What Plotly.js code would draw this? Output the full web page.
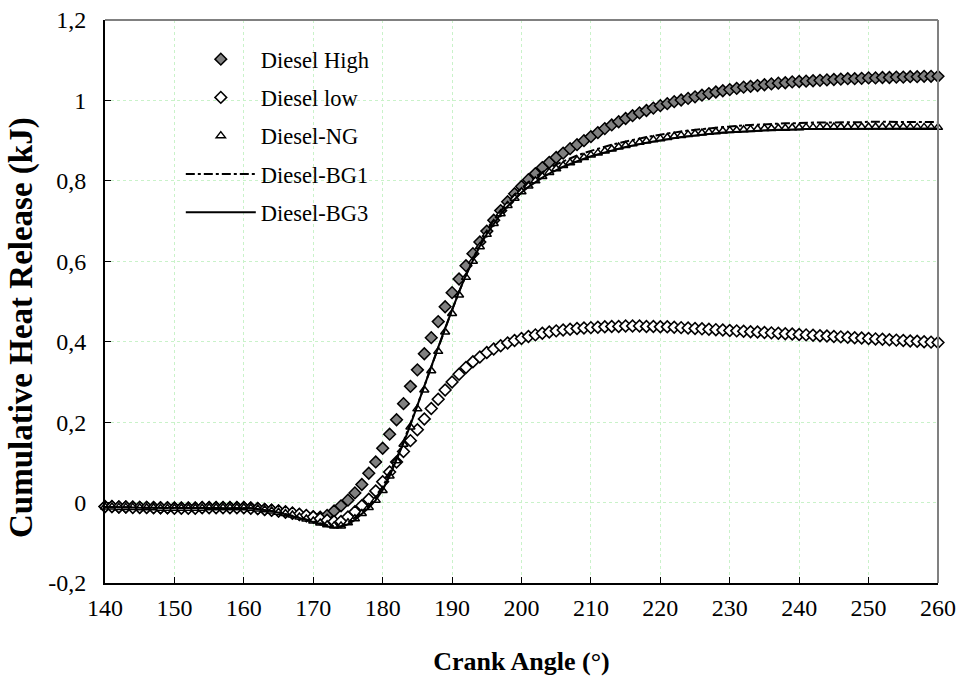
<!DOCTYPE html>
<html><head><meta charset="utf-8">
<script src="https://cdn.plot.ly/plotly-3.0.1.min.js"></script>
<style>html,body{margin:0;padding:0;background:#fff}#chart{width:960px;height:678px}</style>
</head><body><div id="chart"></div>
<script>
const crankAngle = [140,141,142,143,144,145,146,147,148,149,150,151,152,153,154,155,156,157,158,159,160,
161,162,163,164,165,166,167,168,169,170,171,172,173,174,175,176,177,178,179,180,
181,182,183,184,185,186,187,188,189,190,191,192,193,194,195,196,197,198,199,200,
201,202,203,204,205,206,207,208,209,210,211,212,213,214,215,216,217,218,219,220,
221,222,223,224,225,226,227,228,229,230,231,232,233,234,235,236,237,238,239,240,
241,242,243,244,245,246,247,248,249,250,251,252,253,254,255,256,257,258,259,260];

const dieselHigh = [-0.010,-0.010,-0.011,-0.011,-0.011,-0.012,-0.012,-0.012,-0.013,-0.013,-0.013,-0.013,-0.013,-0.013,-0.012,-0.012,-0.012,-0.012,-0.012,-0.012,-0.012,
-0.013,-0.015,-0.017,-0.019,-0.021,-0.024,-0.027,-0.030,-0.033,-0.035,
-0.036,-0.032,-0.021,-0.008,0.006,0.024,0.045,0.073,0.101,0.135,
0.170,0.206,0.246,0.289,0.330,0.370,0.410,0.450,0.487,0.522,
0.556,0.589,0.619,0.648,0.675,0.702,0.726,0.748,0.768,0.786,
0.803,0.818,0.833,0.846,0.858,0.869,0.880,0.890,0.900,0.910,
0.920,0.930,0.939,0.947,0.955,0.962,0.969,0.975,0.981,0.987,
0.992,0.997,1.001,1.005,1.009,1.013,1.017,1.021,1.024,1.027,
1.030,1.033,1.035,1.037,1.039,1.041,1.043,1.044,1.046,1.047,
1.048,1.049,1.050,1.051,1.052,1.053,1.054,1.054,1.055,1.056,
1.056,1.057,1.057,1.058,1.058,1.059,1.059,1.060,1.060,1.060];

const dieselLow = [-0.010,-0.010,-0.011,-0.011,-0.012,-0.012,-0.012,-0.013,-0.013,-0.013,-0.014,-0.014,-0.014,-0.014,-0.013,-0.013,-0.013,-0.013,-0.013,-0.013,-0.013,
-0.014,-0.015,-0.017,-0.019,-0.021,-0.023,-0.026,-0.029,-0.032,-0.036,
-0.040,-0.044,-0.047,-0.047,-0.036,-0.023,-0.008,0.008,0.029,0.052,
0.076,0.101,0.127,0.154,0.181,0.208,0.234,0.257,0.280,0.300,
0.319,0.336,0.350,0.362,0.373,0.382,0.390,0.397,0.403,0.408,
0.413,0.417,0.421,0.424,0.427,0.429,0.431,0.433,0.434,0.435,
0.436,0.437,0.438,0.438,0.439,0.439,0.439,0.438,0.438,0.437,
0.437,0.436,0.435,0.434,0.433,0.432,0.431,0.430,0.429,0.428,
0.427,0.426,0.425,0.424,0.423,0.422,0.421,0.420,0.419,0.418,
0.417,0.416,0.415,0.414,0.413,0.412,0.411,0.410,0.409,0.408,
0.407,0.406,0.405,0.404,0.403,0.402,0.401,0.400,0.399,0.398];

const dieselNG = [-0.011,-0.011,-0.012,-0.012,-0.012,-0.013,-0.013,-0.013,-0.014,-0.014,-0.014,-0.014,-0.014,-0.014,-0.014,-0.013,-0.013,-0.013,-0.013,-0.013,-0.013,
-0.014,-0.016,-0.018,-0.021,-0.024,-0.027,-0.031,-0.036,-0.041,-0.046,
-0.051,-0.055,-0.058,-0.058,-0.050,-0.040,-0.027,-0.012,0.006,0.030,
0.066,0.104,0.145,0.188,0.233,0.280,0.328,0.376,0.424,0.470,
0.516,0.560,0.600,0.636,0.667,0.694,0.718,0.739,0.757,0.773,
0.787,0.800,0.811,0.821,0.830,0.838,0.845,0.852,0.858,0.864,
0.869,0.874,0.879,0.884,0.888,0.892,0.896,0.899,0.902,0.905,
0.908,0.911,0.913,0.915,0.917,0.919,0.921,0.922,0.924,0.925,
0.926,0.927,0.928,0.929,0.930,0.930,0.931,0.931,0.932,0.932,
0.933,0.933,0.933,0.934,0.934,0.934,0.934,0.934,0.934,0.934,
0.934,0.934,0.934,0.934,0.934,0.933,0.933,0.933,0.933,0.933];

const dieselBG1 = [-0.011,-0.011,-0.011,-0.012,-0.012,-0.012,-0.013,-0.013,-0.013,-0.014,-0.014,-0.014,-0.014,-0.014,-0.013,-0.013,-0.013,-0.013,-0.013,-0.013,-0.013,
-0.014,-0.016,-0.018,-0.021,-0.024,-0.028,-0.032,-0.037,-0.042,-0.047,
-0.052,-0.056,-0.059,-0.058,-0.050,-0.038,-0.024,-0.008,0.012,0.038,
0.072,0.110,0.152,0.196,0.242,0.290,0.338,0.386,0.433,0.479,
0.524,0.567,0.606,0.642,0.674,0.702,0.726,0.747,0.766,0.782,
0.797,0.810,0.822,0.832,0.841,0.849,0.856,0.863,0.869,0.875,
0.880,0.885,0.890,0.894,0.898,0.902,0.906,0.909,0.912,0.915,
0.918,0.921,0.923,0.925,0.927,0.929,0.931,0.933,0.934,0.935,
0.937,0.938,0.939,0.940,0.941,0.942,0.942,0.943,0.943,0.944,
0.944,0.945,0.945,0.945,0.946,0.946,0.946,0.946,0.946,0.947,
0.947,0.947,0.947,0.947,0.947,0.947,0.946,0.946,0.946,0.946];

const dieselBG3 = [-0.011,-0.011,-0.012,-0.012,-0.012,-0.013,-0.013,-0.013,-0.014,-0.014,-0.014,-0.014,-0.014,-0.014,-0.014,-0.014,-0.013,-0.013,-0.013,-0.013,-0.013,
-0.014,-0.016,-0.018,-0.021,-0.025,-0.029,-0.033,-0.038,-0.043,-0.049,
-0.054,-0.059,-0.062,-0.061,-0.054,-0.043,-0.029,-0.013,0.006,0.031,
0.066,0.105,0.148,0.193,0.240,0.288,0.337,0.386,0.434,0.480,
0.524,0.566,0.604,0.638,0.668,0.694,0.717,0.737,0.755,0.771,
0.785,0.797,0.808,0.818,0.827,0.835,0.842,0.849,0.855,0.861,
0.866,0.871,0.876,0.880,0.884,0.888,0.892,0.895,0.898,0.901,
0.904,0.907,0.909,0.911,0.913,0.915,0.917,0.918,0.920,0.921,
0.922,0.923,0.924,0.925,0.926,0.926,0.927,0.927,0.928,0.928,
0.929,0.929,0.929,0.930,0.930,0.930,0.930,0.930,0.930,0.930,
0.930,0.930,0.930,0.930,0.930,0.930,0.930,0.930,0.930,0.930];

const seriesNames = ['Diesel High','Diesel low','Diesel-NG','Diesel-BG1','Diesel-BG3'];
const yTickVals = [-0.2,0,0.2,0.4,0.6,0.8,1,1.2];
const yTickText = ['-0,2','0','0,2','0,4','0,6','0,8','1','1,2'];
const xTickVals = [140,150,160,170,180,190,200,210,220,230,240,250,260];
const xTitle = 'Crank Angle (°)';
const yTitle = 'Cumulative Heat Release (kJ)';

const FONT = "'Liberation Serif', 'Times New Roman', Times, serif";

const traces = [
  {x: crankAngle, y: dieselHigh, name: seriesNames[0], legendgroup:'a', mode:'markers', cliponaxis:false,
   marker:{symbol:'diamond', size:9, color:'#808080', line:{color:'#000', width:1.5}}},
  {x: crankAngle, y: dieselLow, name: seriesNames[1], legendgroup:'b', mode:'markers', cliponaxis:false,
   marker:{symbol:'diamond', size:9, color:'#fff', line:{color:'#000', width:1.6}}},
  {x: crankAngle, y: dieselNG, name: seriesNames[2], legendgroup:'c', mode:'markers', cliponaxis:false,
   marker:{symbol:'triangle-up', size:8, color:'#fff', line:{color:'#000', width:1.5}}},
  {x: crankAngle, y: dieselBG1, name: seriesNames[3], legendgroup:'d', mode:'lines',
   line:{color:'#000', width:2, dash:'dashdot'}},
  {x: crankAngle, y: dieselBG3, name: seriesNames[4], legendgroup:'e', mode:'lines',
   line:{color:'#000', width:2}}
];

const layout = {
  width: 960, height: 678,
  margin: {l:105, r:22, t:20, b:95},
  paper_bgcolor:'#fff', plot_bgcolor:'#fff',
  font: {family: FONT, size: 24, color:'#000'},
  showlegend: true,
  legend: {x:0.091, y:0.968, xanchor:'left', yanchor:'top', bgcolor:'rgba(0,0,0,0)',
           font:{family:FONT, size:22.5, color:'#000'}, traceorder:'grouped', tracegroupgap:6, itemwidth:70},
  xaxis: {range:[140,260], tickvals:xTickVals, ticks:'inside', ticklen:6, tickcolor:'#000',
          showline:true, linecolor:'#000', linewidth:2, mirror:false, zeroline:false,
          showgrid:true, gridcolor:'#c9f2c9', griddash:'dot', gridwidth:1,
          tickfont:{family:FONT, size:24}, ticklabelstandoff:2,
          title:{text:'<b>' + xTitle + '</b>', font:{family:FONT, size:26}, standoff:32}},
  yaxis: {range:[-0.2,1.2], tickvals:yTickVals, ticktext:yTickText, ticks:'inside', ticklen:6, tickcolor:'#000',
          showline:true, linecolor:'#000', linewidth:2, mirror:false, zeroline:false,
          showgrid:true, gridcolor:'#c9f2c9', griddash:'dot', gridwidth:1,
          tickfont:{family:FONT, size:24}, ticklabelstandoff:12},
  annotations: [
    {text:'<b>' + yTitle + '</b>', xref:'paper', yref:'paper', x:-0.0996, y:0.453,
     xanchor:'center', yanchor:'middle', textangle:-90, showarrow:false,
     font:{family:FONT, size:33, color:'#000'}}
  ],
  shapes: [
    {type:'line', xref:'paper', yref:'paper', x0:0, x1:1, y0:1, y1:1, line:{color:'#808080', width:2}},
    {type:'line', xref:'paper', yref:'paper', x0:1, x1:1, y0:0, y1:1, line:{color:'#808080', width:2}}
  ]
};

Plotly.newPlot('chart', traces, layout, {displayModeBar:false, staticPlot:true});
</script>
</body></html>
